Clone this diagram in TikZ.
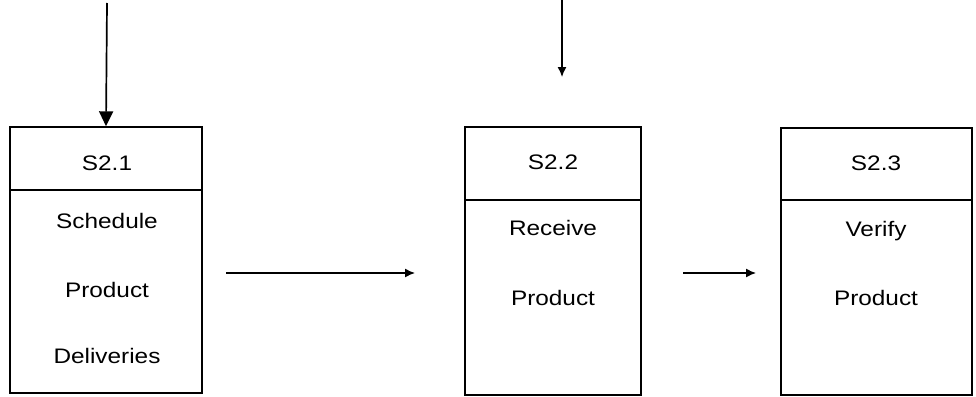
\documentclass[tikz,border=0pt]{standalone}
\usepackage{fontspec}
\setmainfont{Liberation Sans}
\newfontfamily\stepfont[FakeStretch=1.16]{Liberation Sans}
\usetikzlibrary{arrows.meta,positioning}

\begin{document}
\begin{tikzpicture}[x=1pt, y=-1pt,
    hdr/.style={draw, line width=1.4pt, inner sep=0pt},
    lbl/.style={anchor=base, inner sep=0pt, font=\stepfont\fontsize{21}{24}\selectfont},
    bigarr/.style={-{Triangle[length=15pt, width=14pt]}, line width=1.7pt},
    arr/.style={-{Latex[length=10pt, width=9pt]}, line width=1.4pt}
  ]
    \useasboundingbox (0,0) rectangle (976,396);

    % S2.1 box
    \node[hdr, minimum width=192pt, minimum height=63pt]  (h1) at (106,158.5) {};
    \node[hdr, minimum width=192pt, minimum height=203pt] (b1) at (106,291.5) {};
    \node[lbl] (t1)  at (107,170) {S2.1};
    \node[lbl] (t1a) at (107,228) {Schedule};
    \node[lbl] (t1b) at (107,297) {Product};
    \node[lbl] (t1c) at (107,363) {Deliveries};

    % S2.2 box
    \node[hdr, minimum width=176pt, minimum height=73pt]  (h2) at (553,163.5) {};
    \node[hdr, minimum width=176pt, minimum height=195pt] (b2) at (553,297.5) {};
    \node[lbl] (t2)  at (553,169) {S2.2};
    \node[lbl] (t2a) at (553,235) {Receive};
    \node[lbl] (t2b) at (553,305) {Product};

    % S2.3 box
    \node[hdr, minimum width=191pt, minimum height=72pt]  (h3) at (876.5,164) {};
    \node[hdr, minimum width=191pt, minimum height=195pt] (b3) at (876.5,297.5) {};
    \node[lbl] (t3)  at (876,170) {S2.3};
    \node[lbl] (t3a) at (876,236) {Verify};
    \node[lbl] (t3b) at (876,305) {Product};

    % Arrows
    \coordinate (in1) at (107,3);
    \draw[bigarr] (in1) -- (h1.north);

    \coordinate (in2) at (562,0);
    \coordinate (in2e) at (562,77);
    \draw[arr] (in2) -- (in2e);

    \coordinate (m1) at (226,273);
    \coordinate (m1e) at (415,273);
    \draw[arr] (m1) -- (m1e);

    \coordinate (m2) at (683,273);
    \coordinate (m2e) at (756,273);
    \draw[arr] (m2) -- (m2e);

\end{tikzpicture}
\end{document}
